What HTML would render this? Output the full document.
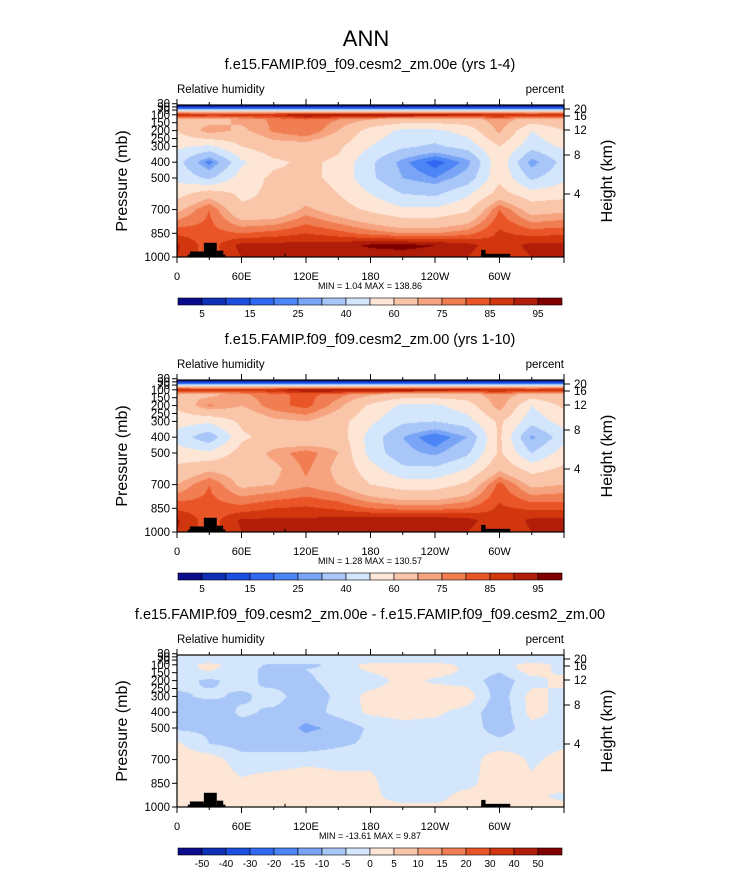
<!DOCTYPE html>
<html><head><meta charset="utf-8"><style>
body{margin:0;background:#fff;width:733px;height:872px;position:relative;overflow:hidden;font-family:"Liberation Sans",sans-serif}
canvas{position:absolute}
svg{position:absolute;left:0;top:0}
</style></head><body>
<svg id="svg" width="733" height="872"></svg>
<script>
const lons=[0,30,60,90,120,150,180,210,240,270,300,330,360];
const pres=[38,60,80,100,130,200,300,400,500,600,700,850,925,1000];
const rh1=[
[2,2,2,2,2,2,2,2,2,2,2,2,2],
[15,15,15,15,15,15,15,15,15,15,15,15,15],
[65,65,65,65,65,65,65,65,65,65,65,65,65],
[92,88,88,90,96,97,96,96,95,93,92,90,92],
[68,66,72,76,80,75,70,66,66,66,74,66,68],
[60,74,68,76,80,70,56,48,48,54,72,50,60],
[52,48,60,66,66,62,50,42,38,44,60,44,52],
[44,22,48,58,62,58,42,27,17,27,58,26,44],
[48,38,55,62,62,58,42,30,25,34,58,38,48],
[56,66,58,62,64,60,50,40,38,48,64,54,56],
[68,80,62,62,72,65,58,52,52,58,80,66,68],
[84,82,80,82,85,82,78,75,75,78,86,83,84],
[91,82,92,92,92,93,96,97,95,92,86,92,91],
[90,82,90,90,90,90,92,92,92,90,86,90,90]];
const rh2=[
[2,2,2,2,2,2,2,2,2,2,2,2,2],
[15,15,15,15,15,15,15,15,15,15,15,15,15],
[65,65,65,65,65,65,65,65,65,65,65,65,65],
[92,88,88,90,96,97,96,96,95,93,92,90,92],
[70,68,74,78,82,77,71,66,66,66,75,66,70],
[62,76,70,78,82,72,58,48,48,55,74,50,62],
[54,52,62,68,70,64,52,42,40,46,62,44,54],
[46,33,58,64,60,66,46,30,20,30,62,28,46],
[55,52,64,72,78,70,46,33,28,38,62,40,55],
[62,68,66,68,76,68,54,42,42,50,68,56,62],
[70,80,68,70,74,70,60,55,55,62,82,68,70],
[84,82,82,85,86,84,80,78,78,80,86,84,84],
[91,82,91,91,91,92,94,95,94,92,86,91,91],
[90,82,90,90,90,90,92,92,92,90,86,90,90]];
const diff=[
[-2,-2,-2,-2,-2,-2,-2,-2,-2,-2,-2,-2,-2],
[-2,-2,-2,-2,-2,-2,-2,-2,-2,-2,-2,-2,-2],
[-2,-2,-2,-2,-2,-2,-2,-2,-2,-2,-2,-2,-2],
[-3,2,-3,-6,-7,-3,2,3,3,-2,-3,3,-2],
[-3,1,-4,-6,-5,-3,1,3,3,-1,-4,3,-2],
[-3,-6,-3,-7,-6,-3,-3,2,-1,-2,-8,-2,2],
[-6,-4,-6,-3,-8,-4,2,3,4,3,-8,2,-2],
[-7,-9,-4,-6,-8,-3,1,2,1,-2,-9,2,-2],
[-6,-6,-7,-7,-11,-9,-4,-2,-2,-2,-8,-2,-2],
[1,-5,-7,-6,-8,-6,-4,-2,-2,-2,-3,-2,-1],
[3,3,-3,-4,-2,-2,-1,-2,-3,-3,4,-1,2],
[3,4,1,4,5,2,1,-3,-3,-2,4,1,4],
[2,2,1,2,2,1,1,-2,-2,2,3,1,-1],
[1,1,1,1,1,1,1,1,1,1,1,1,1]];
const levelsRH=[5,10,15,20,25,30,40,50,60,70,75,80,85,90,95];
const levelsDiff=[-50,-40,-30,-20,-15,-10,-5,0,5,10,15,20,30,40,50];
const labelsRH=["5","15","25","40","60","75","85","95"];
const labelsDiff=["-50","-40","-30","-20","-15","-10","-5","0","5","10","15","20","30","40","50"];
const colors=["#0a0c8c","#0f2fb5","#1c4fe0","#3068f2","#4c85f5","#7aa5f6","#a8c6f8","#d4e6fb","#fde6d6","#fac6aa","#f6a47f","#f17d52","#ea5527","#d1360f","#b01d08","#800000"];
const terrain=[[10,45,985],[12,25,965],[25,37,910],[37,43,960],[100,101,980],[283,287,955],[283,310,980]];
const xTicks=[0,60,120,180,240,300];
const xLabels=["0","60E","120E","180","120W","60W"];
const pTicks=[30,50,70,100,150,200,250,300,400,500,700,850,1000];
const hTicks=[20,16,12,8,4];
const hPos=[4,11,25,50,89];
const panels=[{off:0,title:"f.e15.FAMIP.f09_f09.cesm2_zm.00e (yrs 1-4)",data:rh1,lev:levelsRH,minmax:"MIN =    1.04   MAX = 138.86",cb:"rh"},
{off:275,title:"f.e15.FAMIP.f09_f09.cesm2_zm.00 (yrs 1-10)",data:rh2,lev:levelsRH,minmax:"MIN =    1.28   MAX = 130.57",cb:"rh"},
{off:550,title:"f.e15.FAMIP.f09_f09.cesm2_zm.00e - f.e15.FAMIP.f09_f09.cesm2_zm.00",data:diff,lev:levelsDiff,minmax:"MIN = -13.61   MAX =    9.87",cb:"diff"}];
const X0=177,X1=564,TOP=105,BOT=257;
const xs=l=>X0+(X1-X0)*l/360;
const ys=p=>BOT-(1000-p)*(BOT-TOP)/(1000-38);
const svg=document.getElementById('svg');
const NS="http://www.w3.org/2000/svg";
function mk(tag,attrs,txt){const e=document.createElementNS(NS,tag);for(const k in attrs)e.setAttribute(k,attrs[k]);if(txt!==undefined)e.textContent=txt;svg.appendChild(e);return e;}
function interp(data,lon,p){
  let i=0;while(i<lons.length-2&&lon>lons[i+1])i++;
  let j=0;while(j<pres.length-2&&p>pres[j+1])j++;
  const tx=Math.min(1,Math.max(0,(lon-lons[i])/(lons[i+1]-lons[i])));
  const ty=Math.min(1,Math.max(0,(p-pres[j])/(pres[j+1]-pres[j])));
  const a=data[j][i],b=data[j][i+1],c=data[j+1][i],d=data[j+1][i+1];
  return (a*(1-tx)+b*tx)*(1-ty)+(c*(1-tx)+d*tx)*ty;
}
function hex(h){return[parseInt(h.substr(1,2),16),parseInt(h.substr(3,2),16),parseInt(h.substr(5,2),16)];}
const rgb=colors.map(hex);
const t=mk('text',{x:366,y:46,'font-size':22,'text-anchor':'middle'},"ANN");

panels.forEach((P,k)=>{
  const o=P.off;
  const cv=document.createElement('canvas');
  cv.width=X1-X0;cv.height=BOT-TOP;cv.style.left=X0+'px';cv.style.top=(TOP+o)+'px';
  
  
  document.body.insertBefore(cv,svg);
  const ctx=cv.getContext('2d');const img=ctx.createImageData(cv.width,cv.height);
  for(let py=0;py<cv.height;py++){const p=38+(py+0.5)/(BOT-TOP)*(1000-38);
    for(let px=0;px<cv.width;px++){const lon=(px+0.5)/(X1-X0)*360;
      const v=interp(P.data,lon,p);let c=0;while(c<P.lev.length&&v>=P.lev[c])c++;
      const q=(py*cv.width+px)*4;img.data[q]=rgb[c][0];img.data[q+1]=rgb[c][1];img.data[q+2]=rgb[c][2];img.data[q+3]=255;}}
  ctx.putImageData(img,0,0);
  terrain.forEach(tr=>{const r=mk('rect',{x:xs(tr[0]),y:ys(tr[2])+o,width:xs(tr[1])-xs(tr[0]),height:BOT-ys(tr[2]),fill:'#000'});
    });
  const fr=mk('rect',{x:X0,y:TOP+o,width:X1-X0,height:BOT-TOP,fill:'none',stroke:'#000','stroke-width':1.2});
  
  const ti=mk('text',{x:370,y:69+o,'font-size':14.5,'text-anchor':'middle'},P.title);
  
  const l1=mk('text',{x:177,y:93+o,'font-size':11.5},"Relative humidity");
  
  const l2=mk('text',{x:564,y:93+o,'font-size':11.5,'text-anchor':'end'},"percent");
  
  for(let d=0;d<=360;d+=30){const x=xs(d);const L=d%60===0?6:3;
    mk('line',{x1:x,x2:x,y1:BOT+o,y2:BOT+o+L,stroke:'#000'});mk('line',{x1:x,x2:x,y1:TOP+o,y2:TOP+o-L,stroke:'#000'});}
  xTicks.forEach((d,i)=>{const e=mk('text',{x:xs(d),y:280+o,'font-size':11,'text-anchor':'middle'},xLabels[i]);
    });
  pTicks.forEach(p=>{const y=ys(p)+o;mk('line',{x1:X0,x2:X0-5,y1:y,y2:y,stroke:'#000'});
    const e=mk('text',{x:X0-7,y:y+4,'font-size':11.5,'text-anchor':'end'},String(p));
    });
  hTicks.forEach((h,i)=>{const y=TOP+o+hPos[i];mk('line',{x1:X1,x2:X1+6,y1:y,y2:y,stroke:'#000'});
    const e=mk('text',{x:X1+10,y:y+4,'font-size':11.5},String(h));
    });
  const ya=mk('text',{x:0,y:0,'font-size':16,'text-anchor':'middle',transform:`translate(127,${181+o}) rotate(-90)`},"Pressure (mb)");
  
  const ha=mk('text',{x:0,y:0,'font-size':16,'text-anchor':'middle',transform:`translate(612,${181+o}) rotate(-90)`},"Height (km)");
  
  const mm=mk('text',{x:370,y:289+o,'font-size':9,'text-anchor':'middle'},P.minmax);
  
  const bw=(562-178)/16;
  colors.forEach((c,i)=>{const r=mk('rect',{x:178+i*bw,y:298+o,width:bw,height:7,fill:c,stroke:'#000','stroke-width':0.6});
    });
  if(P.cb==='rh'){labelsRH.forEach((s,i)=>{const e=mk('text',{x:178+(2*i+1)*bw,y:317+o,'font-size':10,'text-anchor':'middle'},s);
      });}
  else{labelsDiff.forEach((s,i)=>{const e=mk('text',{x:178+(i+1)*bw,y:317+o,'font-size':10,'text-anchor':'middle'},s);
      });}
});
</script>
</body></html>
